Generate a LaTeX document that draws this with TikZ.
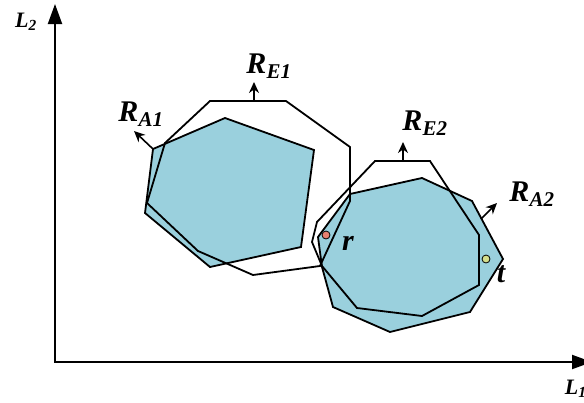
\documentclass[tikz,border=0pt]{standalone}
\usepackage{fontspec}
\setmainfont{Liberation Serif}
\usetikzlibrary{arrows.meta}
\definecolor{regblue}{RGB}{154,208,221}
\definecolor{rdot}{RGB}{232,128,112}
\definecolor{tdot}{RGB}{212,222,140}
\begin{document}
\begin{tikzpicture}[x=1pt,y=-1pt, line width=1.8pt,
  every node/.style={font=\fontsize{30}{32}\selectfont\bfseries\itshape, inner sep=0pt},
  region/.style={draw,fill=regblue},
  expanded/.style={draw},
  dir/.style={-{Stealth[length=11pt,width=10pt]},line width=1.6pt},
  axis/.style={{Triangle[length=20pt,width=14pt]}-{Triangle[length=20pt,width=14pt]},line width=2pt},
  pt/.style={circle,draw,line width=0.8pt,minimum size=8pt}]
\useasboundingbox (0,0) rectangle (584,402);
% axes
\coordinate (y-end) at (55,4);
\coordinate (origin) at (55,362);
\coordinate (x-end) at (592,362);
\draw[axis] (y-end) -- (origin) -- (x-end);
\node[font=\fontsize{22}{24}\selectfont\bfseries\itshape] (l2) at (26,22) {L\textsubscript{2}};
\node[font=\fontsize{22}{24}\selectfont\bfseries\itshape,anchor=west] (l1) at (564,389) {L\textsubscript{1}};
% actual regions
\draw[region] (153,149) -- (225,118) -- (314,150) -- (301,247) -- (210,267) -- (145,213) -- cycle;
\draw[region] (350,194) -- (422,178) -- (472,201) -- (503,259) -- (470,312) -- (390,332) -- (333,307) -- (322,267) -- (318,237) -- cycle;
% expanded regions
\draw[expanded] (165,143) -- (210,101) -- (286,101) -- (350,147) -- (350,201) -- (320,266) -- (253,275) -- (198,251) -- (147,203) -- cycle;
\draw[expanded] (375,161) -- (430,161) -- (479,235) -- (479,285) -- (422,316) -- (357,308) -- (322,266) -- (312,242) -- (317,222) -- cycle;
% directions
\coordinate (a1-base) at (153,149);
\coordinate (a1-tip) at (134,131);
\coordinate (e1-base) at (254,101);
\coordinate (e1-tip) at (254,82);
\coordinate (e2-base) at (403,161);
\coordinate (e2-tip) at (403,142);
\coordinate (a2-base) at (481,219);
\coordinate (a2-tip) at (497,203);
\draw[dir] (a1-base) -- (a1-tip);
\draw[dir] (e1-base) -- (e1-tip);
\draw[dir] (e2-base) -- (e2-tip);
\draw[dir] (a2-base) -- (a2-tip);
\node (ra1) at (141,114) {R\textsubscript{A1}};
\node (re1) at (269,66) {R\textsubscript{E1}};
\node (re2) at (425,123) {R\textsubscript{E2}};
\node (ra2) at (532,194) {R\textsubscript{A2}};
% points
\node[pt,fill=rdot] (r-pt) at (326,235) {};
\node[pt,fill=tdot] (t-pt) at (486,259) {};
\node (r-lab) at (348,243) {r};
\node (t-lab) at (501,274) {t};
\end{tikzpicture}
\end{document}
